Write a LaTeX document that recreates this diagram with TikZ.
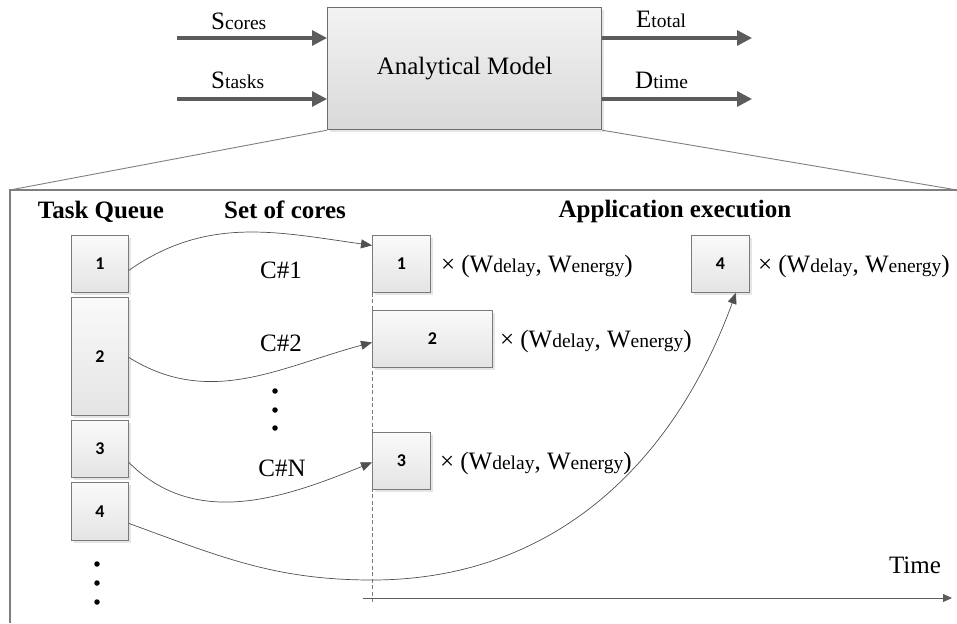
\documentclass[tikz,border=0pt]{standalone}
\usepackage{fontspec}
\setmainfont{Liberation Serif}
\newfontfamily\carlito{Carlito}
\usetikzlibrary{arrows.meta,shadows}
\definecolor{edgegray}{HTML}{7A7A7A}
\definecolor{modeledge}{HTML}{6E6E6E}
\definecolor{arrowgray}{HTML}{5C5C5C}
\definecolor{curvegray}{HTML}{505050}
\definecolor{framegray}{HTML}{7F7F7F}
\definecolor{boxtop}{HTML}{FAFAFA}
\definecolor{boxbot}{HTML}{E4E4E4}
\definecolor{modeltop}{HTML}{F3F3F3}
\definecolor{modelbot}{HTML}{D9D9D9}
\newcommand\bigsmall[2]{{\fontsize{25}{25}\selectfont #1}{\fontsize{19.5}{19.5}\selectfont #2}}
\newcommand\wpair{{\fontsize{25}{25}\selectfont × (\bigsmall{W}{delay}, \bigsmall{W}{energy})}}
\begin{document}
\begin{tikzpicture}[x=1pt,y=1pt,
  taskbox/.style={draw=edgegray, line width=0.8pt, top color=boxtop, bottom color=boxbot,
    inner sep=0pt, anchor=north west, font=\carlito\bfseries\fontsize{18}{18}\selectfont,
    drop shadow={shadow xshift=2.5pt, shadow yshift=-2.5pt, fill=black, opacity=0.10}},
  modelbox/.style={draw=modeledge, line width=1.2pt, top color=modeltop, bottom color=modelbot,
    inner sep=0pt, anchor=north west, font=\fontsize{25}{25}\selectfont,
    drop shadow={shadow xshift=2.5pt, shadow yshift=-2.5pt, fill=black, opacity=0.10}},
  bigarrow/.style={draw=arrowgray, line width=3.2pt, -{Triangle[length=15pt,width=15pt]}},
  curve/.style={draw=curvegray, line width=0.7pt, -{Triangle[length=11pt,width=9pt]}},
  axisline/.style={draw=arrowgray, line width=0.8pt, -{Triangle[length=9pt,width=8pt]}},
  guide/.style={draw=edgegray, line width=0.6pt, dash pattern=on 4pt off 2.5pt},
  frameline/.style={draw=framegray, line width=1.2pt},
  slantline/.style={draw=framegray, line width=0.9pt},
  heading/.style={font=\bfseries\fontsize{25}{25}\selectfont, inner sep=0pt, anchor=base},
  plain/.style={font=\fontsize{25}{25}\selectfont, inner sep=0pt, anchor=base},
  label/.style={inner sep=0pt, anchor=base west},
  dotnode/.style={circle, fill=black, inner sep=0pt, minimum size=5.5pt}
]
\useasboundingbox (0,0) rectangle (957,-623);

% frame
\coordinate (fr1) at (10,-190);
\coordinate (fr2) at (10,-623);
\coordinate (fr3) at (957,-190);
\draw[frameline] (fr2) -- (fr1) -- (fr3);

% analytical model
\node[modelbox, minimum width=274pt, minimum height=122pt] (AM) at (327,-7) {Analytical Model};
\draw[slantline] (AM.south west) -- (fr1);
\draw[slantline] (AM.south east) -- (fr3);

% inputs / outputs
\coordinate (sc) at (177,-38);
\coordinate (st) at (177,-99);
\coordinate (et) at (752,-38);
\coordinate (dt) at (752,-99);
\draw[bigarrow] (sc) -- (sc -| AM.west);
\draw[bigarrow] (st) -- (st -| AM.west);
\draw[bigarrow] (et -| AM.east) -- (et);
\draw[bigarrow] (dt -| AM.east) -- (dt);
\node[label] (lsc) at (211,-30) {\bigsmall{S}{cores}};
\node[label] (lst) at (211,-89) {\bigsmall{S}{tasks}};
\node[label] (let) at (636,-28) {\bigsmall{E}{total}};
\node[label] (ldt) at (635,-89) {\bigsmall{D}{time}};

% headings
\node[heading] (hq) at (101,-218) {Task Queue};
\node[heading] (hc) at (285,-218) {Set of cores};
\node[heading] (ha) at (675,-217) {Application execution};

% task queue
\node[taskbox, minimum width=57pt, minimum height=57pt] (L1) at (71,-235) {1};
\node[taskbox, minimum width=57pt, minimum height=118pt] (L2) at (71,-297) {2};
\node[taskbox, minimum width=57pt, minimum height=57pt] (L3) at (71,-420) {3};
\node[taskbox, minimum width=57pt, minimum height=58pt] (L4) at (71,-482) {4};

% execution boxes
\node[taskbox, minimum width=58pt, minimum height=57pt] (R1) at (372,-235) {1};
\node[taskbox, minimum width=120pt, minimum height=57pt] (R2) at (372,-310) {2};
\node[taskbox, minimum width=58pt, minimum height=57pt] (R3) at (372,-432) {3};
\node[taskbox, minimum width=58pt, minimum height=57pt] (R4) at (691,-235) {4};

\node[label] (w1) at ([xshift=10pt,yshift=-8.5pt]R1.east) {\wpair};
\node[label] (w2) at ([xshift=7pt,yshift=-8.5pt]R2.east) {\wpair};
\node[label] (w3) at ([xshift=9pt,yshift=-8.5pt]R3.east) {\wpair};
\node[label] (w4) at ([xshift=8pt,yshift=-8.5pt]R4.east) {\wpair};

% time axis and guide
\coordinate (dashend) at (372,-604);
\draw[guide] (R1.south west) -- (dashend);
\coordinate (ax0) at (363,-598);
\coordinate (ax1) at (952,-598);
\draw[axisline] (ax0) -- (ax1);
\node[plain] (time) at (915,-573) {Time};

% cores labels
\node[plain] (c1) at (281,-278) {C\#1};
\node[plain] (c2) at (281,-351) {C\#2};
\node[plain] (cn) at (282,-476) {C\#N};
\node[dotnode] (cd1) at (275,-391) {};
\node[dotnode] (cd2) at (275,-410) {};
\node[dotnode] (cd3) at (275,-428) {};
\node[dotnode] (qd1) at (97,-564) {};
\node[dotnode] (qd2) at (97,-583) {};
\node[dotnode] (qd3) at (97,-602) {};

% connectors
\draw[curve] ([yshift=-6.5pt]L1.east) to[out=35,in=172] ([yshift=18.5pt]R1.west);
\draw[curve] ([yshift=-1pt]L2.east) to[out=-32,in=195] ([yshift=-3.5pt]R2.west);
\draw[curve] ([yshift=-13.5pt]L3.east) to[out=-45,in=202] ([yshift=-1.5pt]R3.west);
\coordinate (low4) at (372,-580);
\draw[curve] ([yshift=-12pt]L4.east) to[out=-20,in=180] (low4) to[out=0,in=250] ([xshift=15.5pt]R4.south);
\end{tikzpicture}
\end{document}
